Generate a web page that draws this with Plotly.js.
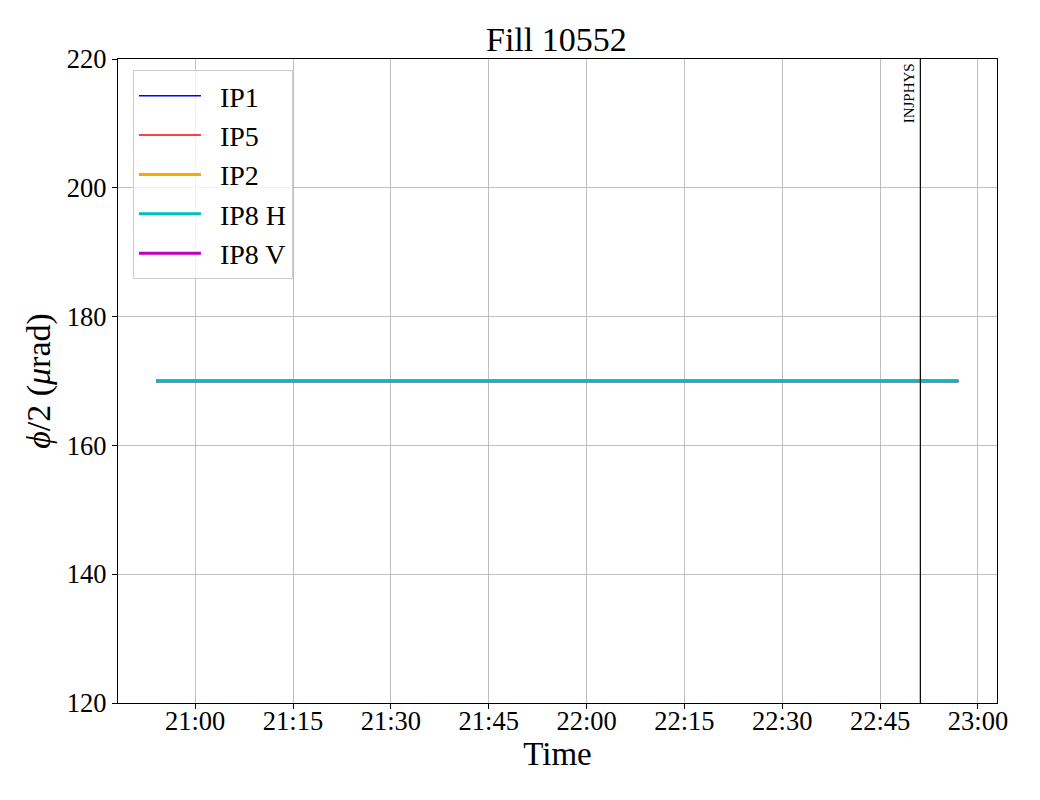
<!DOCTYPE html>
<html>
<head>
<meta charset="utf-8">
<script src="https://cdn.plot.ly/plotly-3.0.1.min.js"></script>
<style>body{margin:0;padding:0;background:#fff;}#chart{width:1040px;height:800px;}</style>
</head>
<body>
<div id="chart"></div>
<script>
const seriesNames = ["IP1", "IP5", "IP2", "IP8 H", "IP8 V"];
const seriesColors = ["#0000ff", "#ff0000", "#ffa500", "#00bfbf", "#bf00bf"];
const seriesWidths = [1.5, 1.5, 3, 3, 3];
const times = ["2024-05-10 20:54:00", "2024-05-10 22:57:00"];
const ip1 = [170, 170];
const ip5 = [170, 170];
const ip2 = [170, 170];
const ip8h = [170, 170];
const ip8v = [170, 170];
const eventTimes = ["2024-05-10 22:51:10"];
const eventLabels = ["INJPHYS"];
const yTicks = [120, 140, 160, 180, 200, 220];

const allValues = [ip1, ip5, ip2, ip8h, ip8v];
const traces = allValues.map((data, i) => ({
  x: times, y: data, type: "scatter", mode: "lines",
  name: "  " + seriesNames[i],
  line: {color: seriesColors[i], width: seriesWidths[i]},
  legendrank: i + 1
}));
// draw IP8 H on top but keep legend order via legendrank
const drawn = [traces[0], traces[1], traces[2], traces[4], traces[3]];

const font = {family: "'Liberation Serif', 'Times New Roman', serif", color: "#000"};

const shapes = eventTimes.map(t => ({
  type: "line", xref: "x", yref: "paper", x0: t, x1: t, y0: 0, y1: 1,
  line: {color: "#000", width: 1.2}
}));
const annotations = eventTimes.map((t, i) => ({
  x: t, xref: "x", y: 1, yref: "paper", text: eventLabels[i],
  textangle: -90, showarrow: false, xanchor: "right", yanchor: "top",
  xshift: -1, yshift: -2,
  font: Object.assign({}, font, {size: 15})
}));

const layout = {
  width: 1040, height: 800,
  margin: {l: 118, r: 43, t: 59, b: 97},
  paper_bgcolor: "#fff", plot_bgcolor: "#fff",
  font: font,
  title: {text: "Fill 10552", font: Object.assign({}, font, {size: 34}), x: 0.535, xanchor: "center", y: 0.951, yanchor: "middle"},
  xaxis: {
    type: "date",
    range: ["2024-05-10 20:48:10", "2024-05-10 23:02:55"],
    tickformat: "%H:%M", dtick: 900000, tick0: "2024-05-10 21:00:00",
    showgrid: true, gridcolor: "#b0b0b0", gridwidth: 0.8,
    showline: true, linecolor: "#000", linewidth: 1.2, mirror: true,
    ticks: "outside", ticklen: 5, tickcolor: "#000", tickwidth: 1,
    tickfont: Object.assign({}, font, {size: 26.5}),
    ticklabelstandoff: -11,
    title: {text: "Time", font: Object.assign({}, font, {size: 33}), standoff: 0},
    zeroline: false
  },
  yaxis: {
    range: [120, 220], tickvals: yTicks,
    showgrid: true, gridcolor: "#b0b0b0", gridwidth: 0.8,
    showline: true, linecolor: "#000", linewidth: 1.2, mirror: true,
    ticks: "outside", ticklen: 5, tickcolor: "#000", tickwidth: 1,
    tickfont: Object.assign({}, font, {size: 26.5}),
    title: {text: "<i>ϕ</i>/2 (<i>μ</i>rad)", font: Object.assign({}, font, {size: 34}), standoff: 5},
    zeroline: false
  },
  legend: {
    x: 0.017, y: 0.983, xanchor: "left", yanchor: "top",
    bgcolor: "rgba(255,255,255,0.8)", bordercolor: "#cccccc", borderwidth: 1,
    font: Object.assign({}, font, {size: 28}),
    tracegroupgap: 0, itemwidth: 62
  },
  shapes: shapes,
  annotations: annotations,
  showlegend: true
};

Plotly.newPlot("chart", drawn, layout, {displayModeBar: false, staticPlot: true});
</script>
</body>
</html>
